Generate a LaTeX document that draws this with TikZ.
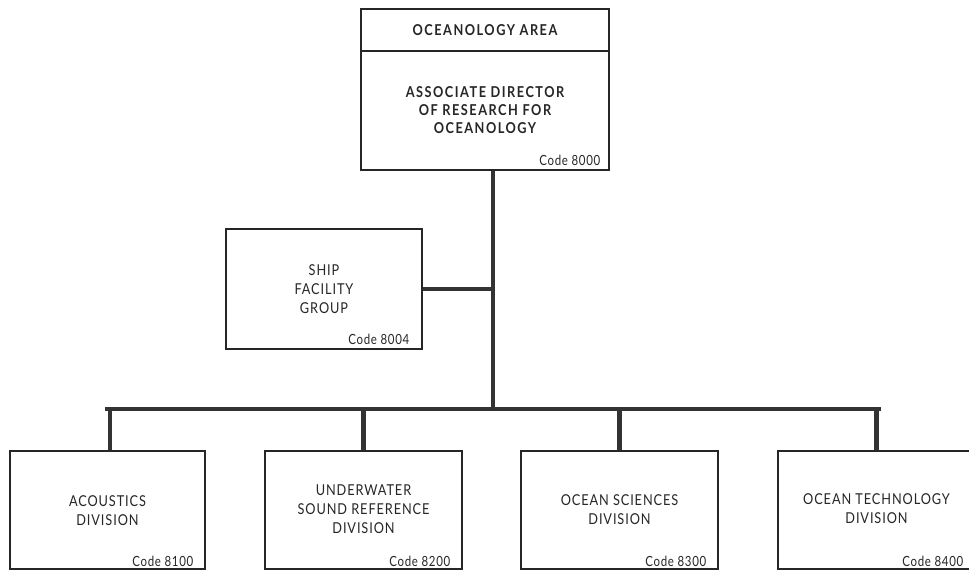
\documentclass[tikz,border=0pt]{standalone}
\usepackage{fontspec}
\setmainfont{Lato}[LetterSpace=6, FakeStretch=0.85]
\newfontfamily\codefont{Lato}[LetterSpace=5, FakeStretch=0.82]
\newfontfamily\headfont{Lato Bold}[LetterSpace=10, FakeStretch=0.85]
\usetikzlibrary{calc}
\begin{document}
\begin{tikzpicture}[x=1pt,y=-1pt,
  box/.style={draw=black!85, line width=1.1pt, rectangle, inner sep=0pt, align=center, text=black!85},
  lbl/.style={align=center, text=black!85, font=\fontsize{15}{19}\selectfont, inner sep=0pt},
  hd/.style={align=center, text=black!85, font=\headfont\fontsize{15}{18}\selectfont, inner sep=0pt},
  code/.style={anchor=base east, text=black!85, font=\codefont\fontsize{14}{15}\selectfont, inner sep=0pt},
  conn/.style={draw=black!80, line width=4.5pt}]
\useasboundingbox (0,0) rectangle (969,570);
\clip (0,0) rectangle (969,570);
% top box
\node[box, minimum width=248pt, minimum height=42pt] (head) at (485,30) {};
\node[hd] (headtxt) at (head.center) {OCEANOLOGY AREA};
\node[box, minimum width=248pt, minimum height=119pt] (main) at (485,110.5) {};
\node[hd] (maintxt) at (485,110) {ASSOCIATE DIRECTOR\\OF RESEARCH FOR\\OCEANOLOGY};
\node[code] (c0) at ($(main.south east)+(-9,-5)$) {Code 8000};
% ship
\node[box, minimum width=196pt, minimum height=120pt] (ship) at (324,289) {};
\node[lbl] (shiptxt) at (324,289) {SHIP\\FACILITY\\GROUP};
\node[code] (c1) at ($(ship.south east)+(-13,-5)$) {Code 8004};
% divisions
\node[box, minimum width=195pt, minimum height=118pt] (d1) at (107.5,510) {};
\node[lbl] (t1) at (107.5,511) {ACOUSTICS\\DIVISION};
\node[code] (c2) at ($(d1.south east)+(-12,-3)$) {Code 8100};
\node[box, minimum width=197pt, minimum height=118pt] (d2) at (363.5,510) {};
\node[lbl] (t2) at (363.5,509) {UNDERWATER\\SOUND REFERENCE\\DIVISION};
\node[code] (c3) at ($(d2.south east)+(-12,-3)$) {Code 8200};
\node[box, minimum width=197pt, minimum height=118pt] (d3) at (619.5,510) {};
\node[lbl] (t3) at (619.5,510) {OCEAN SCIENCES\\DIVISION};
\node[code] (c4) at ($(d3.south east)+(-12,-3)$) {Code 8300};
\node[box, minimum width=197pt, minimum height=118pt] (d4) at (876.5,510) {};
\node[lbl] (t4) at (876.5,509) {OCEAN TECHNOLOGY\\DIVISION};
\node[code] (c5) at ($(d4.south east)+(-12,-3)$) {Code 8400};
% connectors
\coordinate (bus) at (493,409);
\coordinate (j) at (493,289);
\coordinate (busl) at (107.5,409);
\coordinate (busr) at (879,409);
\coordinate (d1x) at (110,409);
\draw[conn] (main.south -| bus) -- (bus);
\draw[conn] (ship.east) -- (j);
\draw[conn, line cap=rect] (busl) -- (busr);
\draw[conn] (d1.north -| d1x) -- (d1x);
\draw[conn] (d2.north) -- (d2.north |- bus);
\draw[conn] (d3.north) -- (d3.north |- bus);
\draw[conn] (d4.north) -- (d4.north |- bus);
\end{tikzpicture}
\end{document}
